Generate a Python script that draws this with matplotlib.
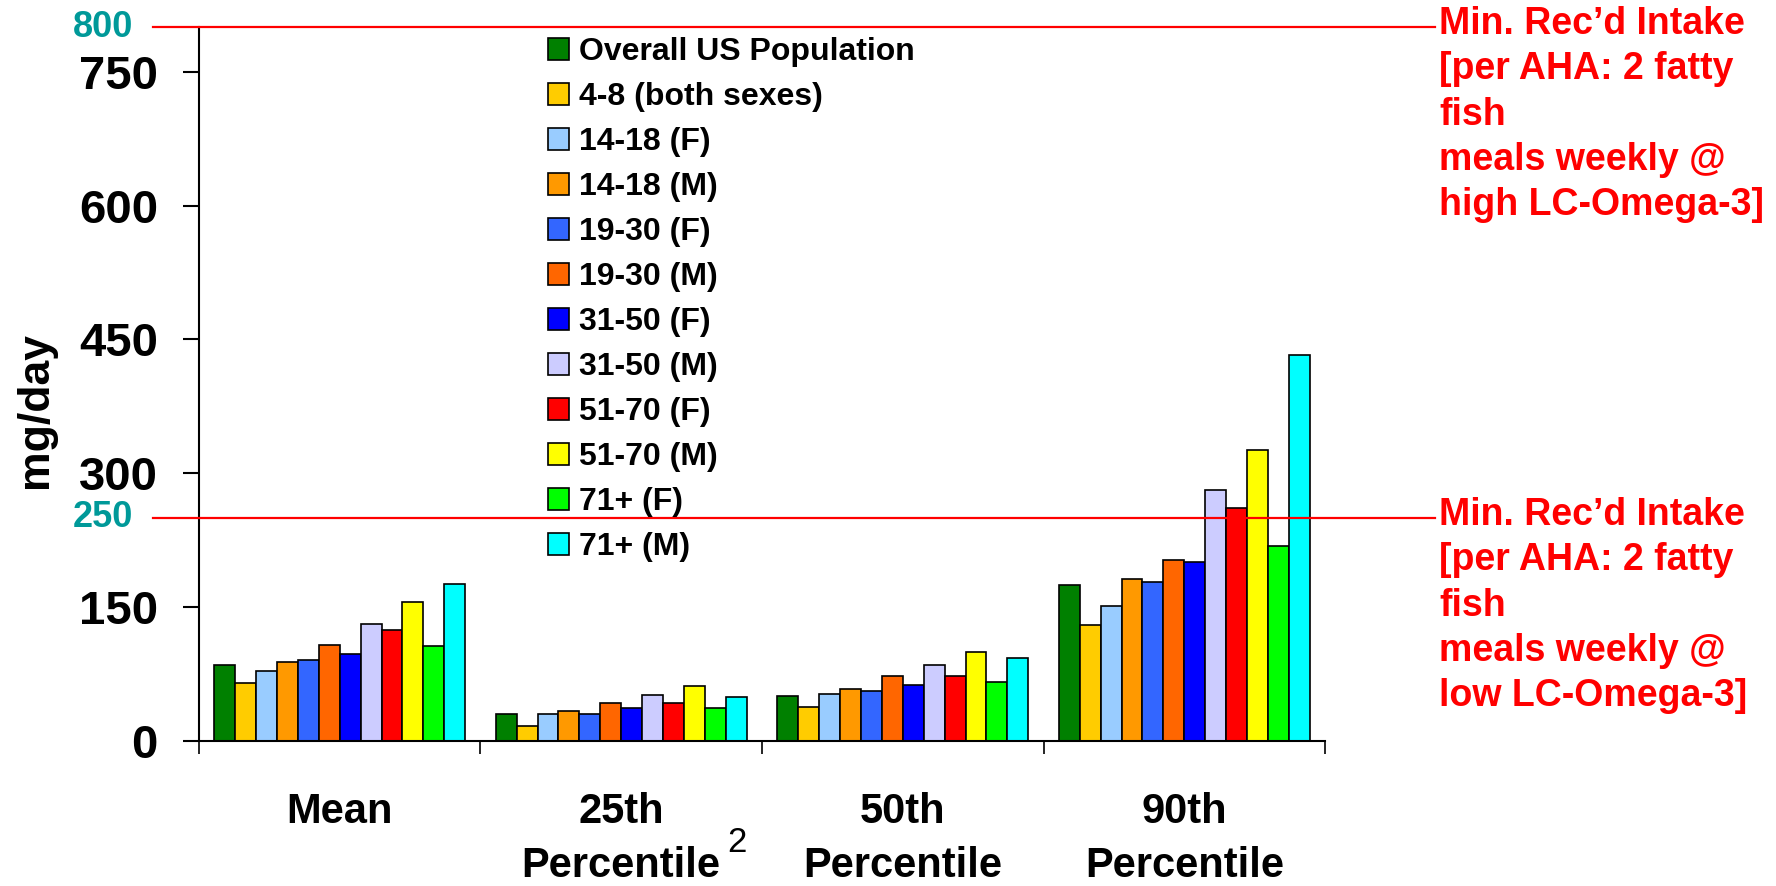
#!/usr/bin/env python3
"""LC omega-3 intake by population group, grouped bar chart"""

import matplotlib.pyplot as plt
import numpy as np
from matplotlib.transforms import blended_transform_factory

plt.rcParams["font.family"] = ["Liberation Sans", "DejaVu Sans"]
plt.rcParams["font.weight"] = "bold"

groups = ["Mean", "25th\nPercentile", "50th\nPercentile", "90th\nPercentile"]
series = [
    "Overall US Population", "4-8 (both sexes)", "14-18 (F)", "14-18 (M)",
    "19-30 (F)", "19-30 (M)", "31-50 (F)", "31-50 (M)",
    "51-70 (F)", "51-70 (M)", "71+ (F)", "71+ (M)",
]
colors = [
    "#008000", "#FFCC00", "#99CCFF", "#FF9900", "#3366FF", "#FF6600",
    "#0000FF", "#CCCCFF", "#FF0000", "#FFFF00", "#00FF00", "#00FFFF",
]

# one list per group, in series order (mg/day)
mean_vals = [85, 65, 78, 88, 91, 108, 98, 131, 124, 156, 106, 176]
p25_vals = [30, 17, 30, 34, 30, 42, 37, 52, 42, 62, 37, 49]
p50_vals = [50, 38, 53, 58, 56, 73, 63, 85, 73, 100, 66, 93]
p90_vals = [175, 130, 151, 181, 178, 203, 201, 281, 261, 326, 219, 432]

yticks = [0, 150, 300, 450, 600, 750]
ref_lines = [800, 250]
ref_texts = [
    "Min. Rec\u2019d Intake\n[per AHA: 2 fatty\nfish\nmeals weekly @\nhigh LC-Omega-3]",
    "Min. Rec\u2019d Intake\n[per AHA: 2 fatty\nfish\nmeals weekly @\nlow LC-Omega-3]",
]


def plot(fig, ax):
    values = np.array([mean_vals, p25_vals, p50_vals, p90_vals])
    x = np.arange(len(groups))
    n = len(series)
    span = 0.892
    w = span / n

    for i in range(n):
        ax.bar(x - span / 2 + w * (i + 0.5), values[:, i], w,
               color=colors[i], edgecolor="black", linewidth=1.2,
               label=series[i], zorder=2)

    ax.set_xlim(-0.5, len(groups) - 0.5)
    ax.set_ylim(0, 800)

    for side in ("top", "right"):
        ax.spines[side].set_visible(False)
    for side in ("left", "bottom"):
        ax.spines[side].set_linewidth(1.5)

    ax.set_yticks(yticks)
    ax.tick_params(axis="y", length=11.5, width=1.5, pad=18, labelsize=34)
    ax.set_xticks(np.arange(-0.5, len(groups), 1))
    ax.set_xticklabels([])
    ax.tick_params(axis="x", length=9, width=1.2)

    # category labels under each group
    for xi, lab in zip(x, groups):
        ax.annotate(lab, xy=(xi, 0), xycoords="data", xytext=(0, -37),
                    textcoords="offset points", ha="center", va="top",
                    fontsize=30, linespacing=1.45)
    ax.annotate("2", xy=(1, 0), xycoords="data", xytext=(83, -73),
                textcoords="offset points", ha="center", va="center",
                fontsize=25, fontweight="normal")

    ax.set_ylabel("mg/day", fontsize=32, fontweight="bold")
    ax.yaxis.set_label_coords(-0.127, 0.464)

    trans = blended_transform_factory(ax.transAxes, ax.transData)
    for v, txt in zip(ref_lines, ref_texts):
        ax.plot([-0.0409, 1.0977], [v, v], transform=trans, color="red",
                lw=1.6, clip_on=False, zorder=5)
        ax.text(-0.0586, v, str(v), transform=trans, ha="right", va="center",
                color="#009999", fontsize=26)
        ax.annotate(txt, xy=(1.0977, v), xycoords=trans, xytext=(3, 15),
                    textcoords="offset points", ha="left", va="top",
                    color="red", fontsize=27, linespacing=1.33)

    ax.legend(loc="upper left", bbox_to_anchor=(0.3086, 0.958),
              bbox_transform=fig.transFigure, frameon=False, fontsize=23,
              handlelength=0.65, handleheight=0.65, handletextpad=0.32,
              labelspacing=0.47, borderpad=0, borderaxespad=0)


def main():
    fig = plt.figure(figsize=(17.76, 8.86), dpi=100)
    ax = fig.add_axes([0.1120, 0.1637, 0.6341, 0.8058])
    plot(fig, ax)
    fig.savefig("out.png", dpi=100)


if __name__ == "__main__":
    main()
